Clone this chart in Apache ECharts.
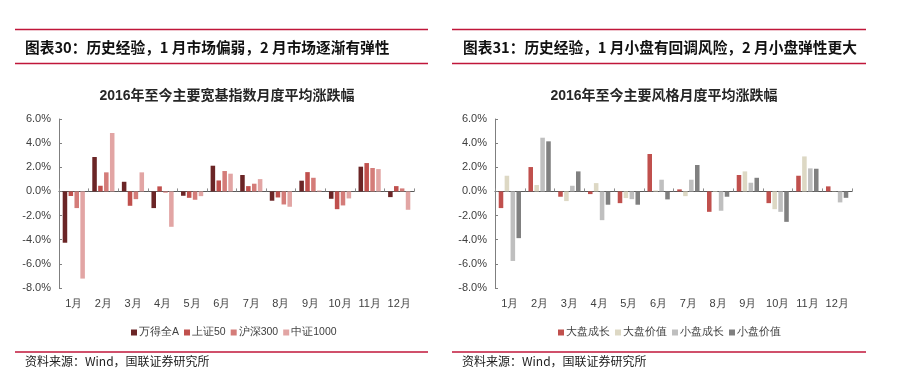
<!DOCTYPE html>
<html><head><meta charset="utf-8">
<script src="https://cdn.jsdelivr.net/npm/echarts@6/dist/echarts.min.js"></script>
<style>html,body{margin:0;padding:0;background:#fff}#c{width:898px;height:390px}</style>
</head><body><div id="c"></div>
<script>
const months = ['1月','2月','3月','4月','5月','6月','7月','8月','9月','10月','11月','12月'];
const yTicks = [-8,-6,-4,-2,0,2,4,6];

// Left chart: broad-based indices (%)
const leftNames = ['万得全A','上证50','沪深300','中证1000'];
const wandeA   = [-4.25, 2.85, 0.80, -1.38, -0.36, 2.13, 1.36, -0.77, 0.89, -0.61, 2.05, -0.47];
const sz50     = [-0.38, 0.47, -1.19, 0.42, -0.53, 0.91, 0.44, -0.50, 1.60, -1.47, 2.35, 0.44];
const hs300    = [-1.38, 1.58, -0.64, -0.10, -0.69, 1.69, 0.64, -1.08, 1.13, -1.16, 1.94, 0.25];
const zz1000   = [-7.22, 4.84, 1.58, -2.93, -0.39, 1.47, 1.02, -1.27, 0.08, -0.58, 1.85, -1.52];

// Right chart: styles (%)
const rightNames = ['大盘成长','大盘价值','小盘成长','小盘价值'];
const bigGrowth   = [-1.38, 2.02, -0.44, -0.22, -0.97, 3.10, 0.17, -1.69, 1.36, -0.97, 1.30, 0.42];
const bigValue    = [1.30, 0.53, -0.80, 0.69, -0.55, 0.08, -0.39, -0.05, 1.66, -1.47, 2.90, 0.02];
const smallGrowth = [-5.76, 4.45, 0.47, -2.38, -0.64, 0.97, 0.97, -1.60, 0.72, -1.69, 1.91, -0.91];
const smallValue  = [-3.87, 4.15, 1.66, -1.10, -1.10, -0.66, 2.19, -0.44, 1.13, -2.52, 1.88, -0.53];

const leftColors = ['#6b2526','#c0504d','#d47c79','#e2a5a4'];
const rightColors = ['#c0504d','#ddd8c4','#bfbfbf','#808080'];

const chart = echarts.init(document.getElementById('c'));
const axisFont = {fontFamily:'Liberation Sans, Arial, sans-serif', fontSize:11, color:'#404040'};

function yAx(gi){
  return {type:'value', gridIndex:gi, min:-8, max:6, interval:2,
    axisLine:{show:true, lineStyle:{color:'#7f7f7f'}},
    axisTick:{show:true, inside:true, length:3, lineStyle:{color:'#7f7f7f'}},
    splitLine:{show:false},
    axisLabel:Object.assign({margin:8, formatter:v=>v.toFixed(1)+'%'}, axisFont)};
}
function xAxLine(gi){
  return {type:'category', gridIndex:gi, data:months,
    axisLine:{onZero:true, lineStyle:{color:'#595959', width:1.2}},
    axisTick:{show:true, inside:true, length:3, interval:0, lineStyle:{color:'#8c8c8c'}},
    axisLabel:{show:false}};
}
function xAxLabel(gi){
  return {type:'category', gridIndex:gi, data:months, position:'bottom',
    axisLine:{show:false, onZero:false}, axisTick:{show:false},
    axisLabel:Object.assign({margin:10, interval:0}, axisFont)};
}
function bars(name, data, color, xi, yi){
  return {type:'bar', name, data, xAxisIndex:xi, yAxisIndex:yi,
    barGap:'30%', barCategoryGap:'25%', itemStyle:{color}};
}

const red = '#c0163a';
const headerFont = {fontFamily:'"Noto Sans CJK SC", sans-serif', fontWeight:'bold', fontSize:14.7, fill:'#111'};
const srcFont = {fontFamily:'"Noto Sans CJK SC", sans-serif', fontSize:12, fill:'#222'};
const legendText = Object.assign({}, axisFont, {fontSize:10.5, padding:[0,0,0,-3]});

chart.setOption({
  animation:false,
  textStyle:{fontFamily:'Liberation Sans, Arial, sans-serif'},
  title:[
    {text:'2016年至今主要宽基指数月度平均涨跌幅', left:222, top:84, textAlign:'center',
      textStyle:{fontSize:14, fontWeight:'bold', color:'#262626', fontFamily:'Liberation Sans, "Noto Sans CJK SC", sans-serif'}},
    {text:'2016年至今主要风格月度平均涨跌幅', left:659, top:84, textAlign:'center',
      textStyle:{fontSize:14, fontWeight:'bold', color:'#262626', fontFamily:'Liberation Sans, "Noto Sans CJK SC", sans-serif'}}
  ],
  legend:[
    {data:leftNames, left:126, top:322, width:300, itemWidth:6, itemHeight:6, itemGap:5,
      textStyle:legendText, icon:'rect'},
    {data:rightNames, left:553, top:322, width:300, itemWidth:6, itemHeight:6, itemGap:5,
      textStyle:legendText, icon:'rect'}
  ],
  grid:[
    {left:59, top:119, width:355, height:169},
    {left:495, top:119, width:357, height:169}
  ],
  xAxis:[xAxLine(0), xAxLabel(0), xAxLine(1), xAxLabel(1)],
  yAxis:[yAx(0), yAx(1)],
  series:[
    bars(leftNames[0], wandeA, leftColors[0], 0, 0),
    bars(leftNames[1], sz50, leftColors[1], 0, 0),
    bars(leftNames[2], hs300, leftColors[2], 0, 0),
    bars(leftNames[3], zz1000, leftColors[3], 0, 0),
    bars(rightNames[0], bigGrowth, rightColors[0], 2, 1),
    bars(rightNames[1], bigValue, rightColors[1], 2, 1),
    bars(rightNames[2], smallGrowth, rightColors[2], 2, 1),
    bars(rightNames[3], smallValue, rightColors[3], 2, 1)
  ],
  graphic:[
    {type:'line', shape:{x1:15,y1:29.5,x2:428,y2:29.5}, style:{stroke:red, lineWidth:1.5}},
    {type:'line', shape:{x1:15,y1:63.5,x2:428,y2:63.5}, style:{stroke:red, lineWidth:1.5}},
    {type:'line', shape:{x1:15,y1:352,x2:428,y2:352}, style:{stroke:red, lineWidth:1.5}},
    {type:'line', shape:{x1:452,y1:29.5,x2:866,y2:29.5}, style:{stroke:red, lineWidth:1.5}},
    {type:'line', shape:{x1:452,y1:63.5,x2:866,y2:63.5}, style:{stroke:red, lineWidth:1.5}},
    {type:'line', shape:{x1:452,y1:352,x2:866,y2:352}, style:{stroke:red, lineWidth:1.5}},
    {type:'text', x:25, y:47, style:Object.assign({text:'图表30：历史经验，1 月市场偏弱，2 月市场逐渐有弹性', verticalAlign:'middle'}, headerFont)},
    {type:'text', x:463, y:47, style:Object.assign({text:'图表31：历史经验，1 月小盘有回调风险，2 月小盘弹性更大', verticalAlign:'middle'}, headerFont)},
    {type:'text', x:25, y:361, style:Object.assign({text:'资料来源：Wind，国联证券研究所', verticalAlign:'middle'}, srcFont)},
    {type:'text', x:462, y:361, style:Object.assign({text:'资料来源：Wind，国联证券研究所', verticalAlign:'middle'}, srcFont)}
  ]
});
</script></body></html>
